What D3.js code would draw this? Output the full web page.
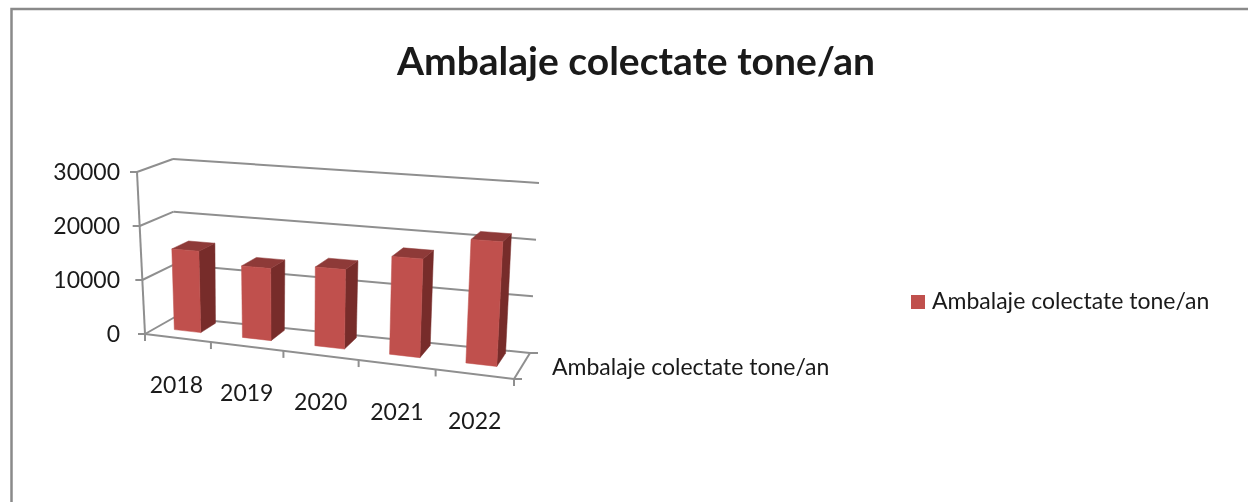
<!DOCTYPE html>
<html>
<head>
<meta charset="utf-8">
<script src="https://d3js.org/d3.v7.min.js"></script>
<style>
  html, body { margin: 0; padding: 0; background: #fff; overflow: hidden; }
  svg { display: block; filter: blur(0.45px); }
  text { font-family: Lato, "Open Sans", sans-serif; fill: #1a1a1a; }
</style>
</head>
<body>
<div id="chart"></div>
<script>
const chartTitle = "Ambalaje colectate tone/an";
const years = ["2018", "2019", "2020", "2021", "2022"];
const values = [15000, 13000, 14000, 17000, 21000];
const valueTicks = [0, 10000, 20000, 30000];

const width = 1248, height = 502;

const svg = d3.select("#chart").append("svg")
  .attr("width", width)
  .attr("height", height);

// corners of the 3d box as seen on screen: [front/back][left/right][floor/top]
const box = {
  fl0: [145, 334], fr0: [514, 379], bl0: [175, 317], br0: [530, 353],
  fl1: [137, 172], fr1: [524, 194], bl1: [173, 159], br1: [539, 183]
};

// position along the front edge, the far right side is drawn a bit wider
const warp = d3.scalePow().exponent(1.07).domain([0, 1]).range([0, 1]);
const xBand = d3.scaleBand().domain(years).range([0, 1]).paddingInner(0.6).paddingOuter(0.3);
const xEdge = d3.scaleBand().domain(years).range([0, 1]);
const yScale = d3.scaleLinear().domain([0, 30000]).range([0, 1]);

// u along the categories, d into the depth, v up the value axis
function project(u, d, v) {
  const mix = (a, b, t) => a + (b - a) * t;
  const out = [];
  for (let i = 0; i < 2; i++) {
    const floor = mix(mix(box.fl0[i], box.fr0[i], u), mix(box.bl0[i], box.br0[i], u), d);
    const top = mix(mix(box.fl1[i], box.fr1[i], u), mix(box.bl1[i], box.br1[i], u), d);
    out.push(mix(floor, top, v));
  }
  return out;
}

const line = d3.line();
const gridColor = "#8f8f8f";

function seg(a, b, w) {
  svg.append("path")
    .attr("d", line([a, b]))
    .attr("fill", "none")
    .attr("stroke", gridColor)
    .attr("stroke-width", w || 2);
}

// frame, runs off the right and bottom of the picture
svg.append("path")
  .attr("d", line([[11.5, height], [11.5, 9], [width, 9]]))
  .attr("fill", "none")
  .attr("stroke", "#8a8a8a")
  .attr("stroke-width", 2.5);

// gridlines on the side and back walls
valueTicks.forEach(t => {
  const v = yScale(t);
  seg(project(0, 0, v), project(0, 1, v));
  seg(project(0, 1, v), project(1, 1, v));
});

// value axis and ticks
seg(project(0, 0, 0), project(0, 0, 1));
valueTicks.forEach(t => {
  const p = project(0, 0, yScale(t));
  seg([p[0] - 7, p[1]], p);
  svg.append("text")
    .attr("x", 120)
    .attr("y", p[1])
    .attr("dy", "0.35em")
    .attr("text-anchor", "end")
    .attr("font-size", 23)
    .text(t);
});

// floor edges
seg(project(0, 0, 0), project(1, 0, 0));
seg(project(1, 0, 0), project(1, 1, 0));

// ticks along the front edge
const edges = years.map(y => warp(xEdge(y))).concat([1]);
edges.forEach(u => {
  const p = project(u, 0, 0);
  seg(p, [p[0], p[1] + 7]);
});

// depth axis ticks
[0, 1].forEach(d => {
  const p = project(1, d, 0);
  seg(p, [p[0] + 8, p[1]]);
});

// bars
const depthFront = 0.38, depthBack = 0.9;
const bars = svg.append("g").selectAll("g")
  .data(years.map((y, i) => ({ year: y, value: values[i] })))
  .join("g");

bars.each(function(d) {
  const g = d3.select(this);
  const u0 = warp(xBand(d.year));
  const u1 = warp(xBand(d.year) + xBand.bandwidth());
  const v = yScale(d.value);
  const face = (pts, color) => g.append("path")
    .attr("d", line(pts) + "Z")
    .attr("fill", color)
    .attr("stroke", color)
    .attr("stroke-width", 0.5);
  face([project(u1, depthFront, 0), project(u1, depthBack, 0), project(u1, depthBack, v), project(u1, depthFront, v)], "#772c2a");
  face([project(u0, depthFront, v), project(u1, depthFront, v), project(u1, depthBack, v), project(u0, depthBack, v)], "#8e3a38");
  face([project(u0, depthFront, 0), project(u1, depthFront, 0), project(u1, depthFront, v), project(u0, depthFront, v)], "#c0504d");
});

// category labels
years.forEach(y => {
  const u = warp(xEdge(y) + xEdge.bandwidth() / 2);
  const p = project(u, 0, 0);
  svg.append("text")
    .attr("x", p[0])
    .attr("y", p[1] + 55)
    .attr("text-anchor", "middle")
    .attr("font-size", 23)
    .text(y);
});

// series name on the depth axis
svg.append("text")
  .attr("x", 552)
  .attr("y", 375)
  .attr("font-size", 23)
  .text(chartTitle);

// title
svg.append("text")
  .attr("x", 636)
  .attr("y", 75)
  .attr("text-anchor", "middle")
  .attr("font-size", 39)
  .attr("font-weight", 700)
  .attr("fill", "#000")
  .text(chartTitle);

// legend
svg.append("rect")
  .attr("x", 911)
  .attr("y", 295)
  .attr("width", 14)
  .attr("height", 14)
  .attr("fill", "#c0504d");
svg.append("text")
  .attr("x", 932)
  .attr("y", 309)
  .attr("font-size", 23)
  .text(chartTitle);
</script>
</body>
</html>
